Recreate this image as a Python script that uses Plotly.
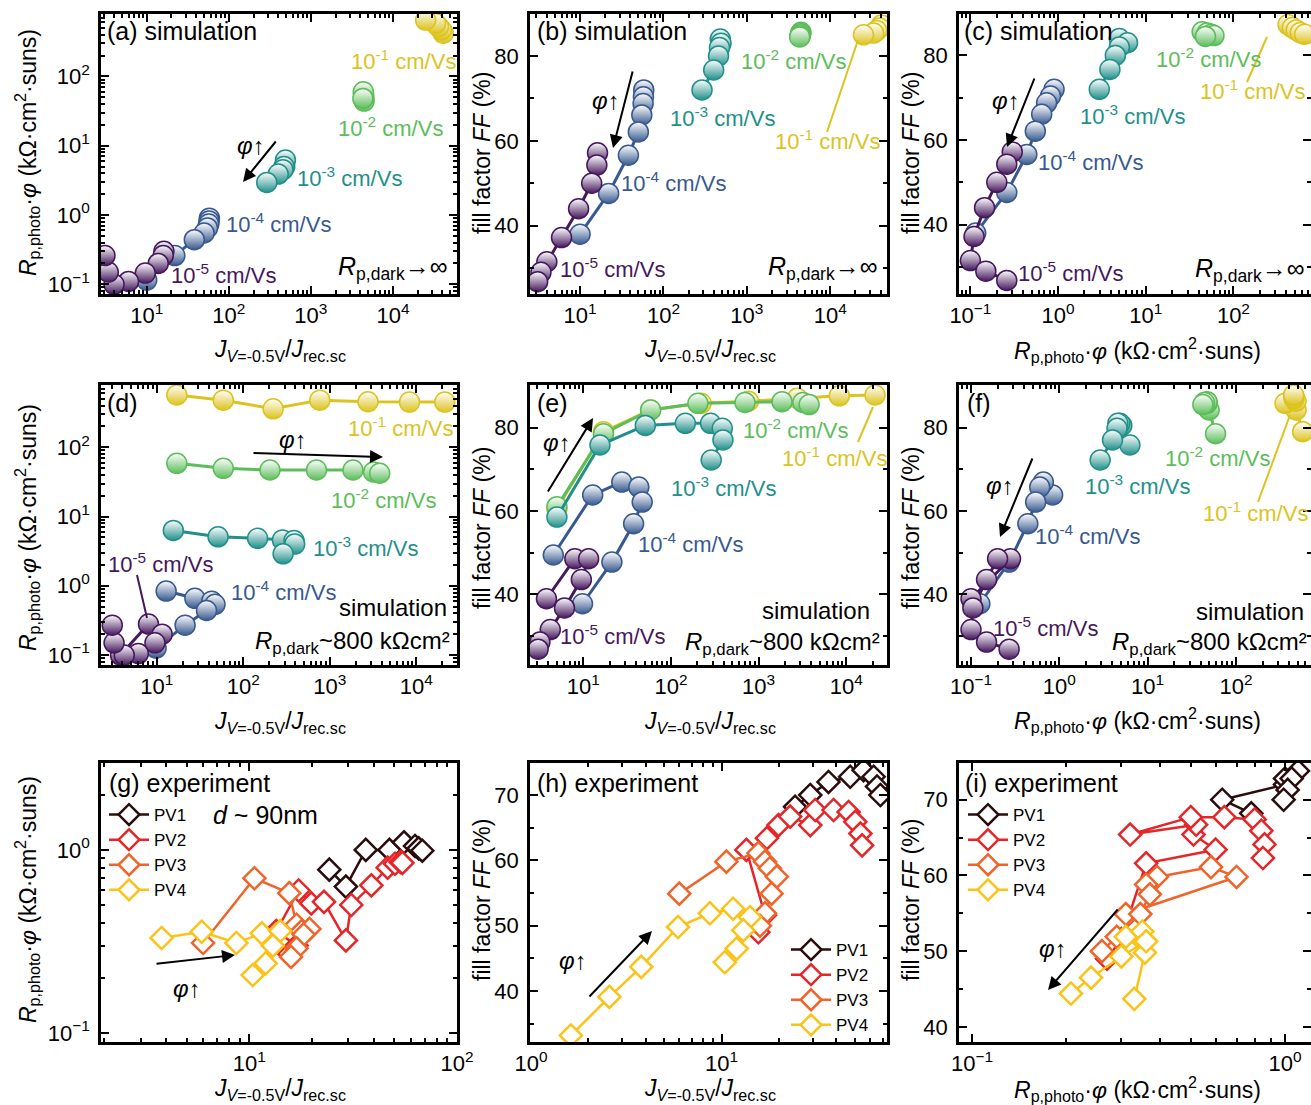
import plotly.graph_objects as go

W, H = 1311, 1105
FONT = "Liberation Sans, Arial, sans-serif"

# ---------------- data ----------------
mobility_labels = ["10<sup>-5</sup> cm/Vs", "10<sup>-4</sup> cm/Vs", "10<sup>-3</sup> cm/Vs",
                   "10<sup>-2</sup> cm/Vs", "10<sup>-1</sup> cm/Vs"]
sim_colors = ["#45175d", "#37598f", "#21908a", "#5cbd5a", "#dcc31e"]

# Simulation, R_p,dark -> infinity  (panels a, b, c)
inf_J_m5 = [16.2, 15.9, 13.8, 9.6, 6.0, 4.0, 3.4, 3.1]
inf_Rp_m5 = [0.30, 0.26, 0.20, 0.145, 0.11, 0.10, 0.15, 0.26]
inf_FF_m5 = [57.2, 54.3, 50.0, 44.0, 37.2, 31.5, 29.0, 26.8]

inf_J_m4 = [58, 57.5, 57, 55, 50, 38, 22, 10]
inf_Rp_m4 = [0.90, 0.82, 0.74, 0.65, 0.55, 0.44, 0.26, 0.115]
inf_FF_m4 = [72.0, 70.4, 68.8, 66.1, 62.1, 56.6, 47.6, 38.0]

inf_J_m3 = [480, 490, 470, 457, 400, 290]
inf_Rp_m3 = [5.0, 6.2, 5.0, 4.5, 3.9, 2.95]
inf_FF_m3 = [84.0, 83.0, 82.0, 80.0, 76.7, 72.0]

inf_J_m2 = [4450, 4420, 4380, 4350, 4300]
inf_Rp_m2 = [44, 50, 56, 60, 48]
inf_FF_m2 = [85.6, 85.3, 85.0, 84.7, 84.5]

inf_J_m1 = [41000, 39000, 36000, 33000, 25000]
inf_Rp_m1 = [420, 470, 520, 580, 650]
inf_FF_m1 = [87.3, 86.6, 86.0, 85.4, 85.0]

# Simulation, R_p,dark ~ 800 kOhm cm2  (panels d, e, f)
dk_J_m5 = [3.8, 8.0, 11.5, 9.5, 6.1, 4.2, 3.2, 3.05]
dk_Rp_m5 = [0.10, 0.28, 0.20, 0.15, 0.105, 0.10, 0.15, 0.27]
dk_FF_m5 = [38.9, 48.5, 48.5, 43.5, 36.7, 31.5, 28.5, 26.8]

dk_J_m4 = [4.55, 12.8, 27.5, 43, 47, 37.5, 21.2, 9.8]
dk_Rp_m4 = [None, 0.84, 0.66, 0.60, 0.54, 0.44, 0.27, 0.126]
dk_FF_m4 = [49.4, 63.8, 66.9, 65.7, 62.1, 56.9, 47.7, 37.7]

dk_J_m3 = [5.0, 15.5, 51, 146, 283, 385, 392, 288]
dk_Rp_m3 = [None, 6.3, 5.1, 4.85, 4.6, 4.5, 4.0, 2.9]
dk_FF_m3 = [58.5, 75.8, 80.5, 81.0, 81.0, 79.8, 77.0, 72.2]

dk_J_m2 = [5.0, 17, 58.6, 203, 700, 1850, 3200, 3770]
dk_Rp_m2 = [None, 58.8, 49.7, 47.0, 47.0, 47.0, 44.0, 42.2]
dk_FF_m2 = [61.0, 78.5, 84.2, 85.8, 86.0, 86.2, 86.0, 85.5]

dk_J_m1 = [5.0, 17, 58.6, 221, 766, 2760, 8330, 21300]
dk_Rp_m1 = [None, 570, 480, 360, 480, 455, 450, 450]
dk_FF_m1 = [60.5, 79.0, 84.2, 85.8, 86.3, 87.0, 87.6, 87.8]

# Experiment (panels g, h, i)
pv_names = ["PV1", "PV2", "PV3", "PV4"]
pv_colors = ["#2a0c0c", "#e52528", "#f0642a", "#fbc217"]

pv1_J = [24.3, 29.2, 36.4, 47.3, 55.6, 62.8, 65.4, 68.1]
pv1_Rp = [0.78, 0.63, 1.0, 1.0, 1.1, 1.05, 1.02, 0.99]
pv1_FF = [68.2, 70.0, 72.0, 72.8, 73.8, 72.8, 71.3, 70.0]

pv2_J = [15.6, 16.9, 13.5, 17.3, 19.9, 22.9, 29.2, 31.0, 38.7, 46.4, 50.3, 53.5, 54.6]
pv2_Rp = [0.27, 0.30, 0.36, 0.60, 0.51, 0.52, 0.32, 0.50, 0.64, 0.80, 0.84, 0.86, 0.85]
pv2_FF = [49.0, 51.6, 61.6, 63.4, 65.4, 66.7, 65.4, 67.7, 67.7, 67.4, 65.9, 64.1, 62.3]

pv3_J = [6.0, 10.6, 15.6, 16.9, 17.9, 19.5, 18.3, 16.9, 15.9]
pv3_Rp = [0.31, 0.70, 0.58, 0.39, 0.36, 0.37, 0.345, 0.29, 0.26]
pv3_FF = [54.9, 59.8, 61.1, 59.8, 58.8, 57.5, 54.9, 51.9, 50.0]

pv4_J = [1.62, 2.58, 3.79, 5.91, 8.68, 11.5, 14.1, 13.0, 12.0, 10.4]
pv4_Rp = [None, None, 0.33, 0.357, 0.31, 0.35, 0.36, 0.30, 0.24, 0.207]
pv4_FF = [33.2, 39.1, 43.7, 49.8, 51.9, 52.6, 51.3, 49.3, 46.5, 44.4]

# tick labels
log_tick_text = {-1: "10<sup>−1</sup>", 0: "10<sup>0</sup>", 1: "10<sup>1</sup>",
                 2: "10<sup>2</sup>", 3: "10<sup>3</sup>", 4: "10<sup>4</sup>"}

# ---------------- helpers ----------------
def pxx(p):
    return p / W


def pxy(p):
    return 1 - p / H


inf_sets = [(inf_J_m5, inf_Rp_m5, inf_FF_m5), (inf_J_m4, inf_Rp_m4, inf_FF_m4),
            (inf_J_m3, inf_Rp_m3, inf_FF_m3), (inf_J_m2, inf_Rp_m2, inf_FF_m2),
            (inf_J_m1, inf_Rp_m1, inf_FF_m1)]
dk_sets = [(dk_J_m5, dk_Rp_m5, dk_FF_m5), (dk_J_m4, dk_Rp_m4, dk_FF_m4),
           (dk_J_m3, dk_Rp_m3, dk_FF_m3), (dk_J_m2, dk_Rp_m2, dk_FF_m2),
           (dk_J_m1, dk_Rp_m1, dk_FF_m1)]
pv_sets = [(pv1_J, pv1_Rp, pv1_FF), (pv2_J, pv2_Rp, pv2_FF),
           (pv3_J, pv3_Rp, pv3_FF), (pv4_J, pv4_Rp, pv4_FF)]

fig = go.Figure()


def axid(k):
    return ("x" if k == 1 else f"x{k}"), ("y" if k == 1 else f"y{k}")


def pick(s, which):
    J, Rp, FF = s
    return {"JR": (J, Rp), "JF": (J, FF), "RF": (Rp, FF)}[which]


# simulation traces (high mobility first so low mobility sits on top)
for sets, panels in [(inf_sets, [(1, "JR"), (2, "JF"), (3, "RF")]),
                     (dk_sets, [(4, "JR"), (5, "JF"), (6, "RF")])]:
    for k, which in panels:
        xa, ya = axid(k)
        for i in reversed(range(5)):
            x, y = pick(sets[i], which)
            c = sim_colors[i]
            fig.add_trace(go.Scatter(
                x=x, y=y, mode="lines+markers", xaxis=xa, yaxis=ya, showlegend=False,
                line=dict(color=c, width=3),
                marker=dict(symbol="circle", size=20, color="white",
                            line=dict(color=c, width=1.5),
                            gradient=dict(type="vertical", color=c)),
                hoverinfo="skip"))

# experiment traces
for k, which, leg in [(7, "JR", "legend"), (8, "JF", "legend2"), (9, "RF", "legend3")]:
    xa, ya = axid(k)
    for i in range(4):
        x, y = pick(pv_sets[i], which)
        c = pv_colors[i]
        fig.add_trace(go.Scatter(
            x=x, y=y, mode="lines+markers", xaxis=xa, yaxis=ya, name=pv_names[i],
            legend=leg, showlegend=True,
            line=dict(color=c, width=2.5),
            marker=dict(symbol="diamond", size=17, color="white", line=dict(color=c, width=2.5)),
            hoverinfo="skip"))

# ---------------- axes ----------------
cols = [(101, 457), (530, 887), (959, 1311)]
rows = [(14, 294), (385, 665), (763, 1042)]

minor_log = [m * 10.0 ** e for e in range(-2, 6) for m in range(2, 10)]


def log_axis(rng, lo, hi):
    return dict(type="log", range=rng,
                tickvals=[10.0 ** e for e in range(lo, hi + 1)],
                ticktext=[log_tick_text[e] for e in range(lo, hi + 1)],
                minor=dict(tickmode="array", tickvals=minor_log, ticks="inside",
                           ticklen=4, tickwidth=1.5, tickcolor="black"))


def lin_axis(rng, vals, mdt):
    return dict(type="linear", range=rng, tickvals=vals, ticktext=[str(v) for v in vals],
                minor=dict(dtick=mdt, tick0=0, ticks="inside", ticklen=4,
                           tickwidth=1.5, tickcolor="black"))


ax_specs = {
    1: (log_axis([0.443, 4.78], 1, 4), log_axis([-1.14, 2.90], -1, 2)),
    2: (log_axis([0.40, 4.68], 1, 4), lin_axis([23.9, 89.9], [40, 60, 80], 10)),
    3: (log_axis([-1.13, 2.885], -1, 2), lin_axis([23.6, 89.8], [40, 60, 80], 10)),
    4: (log_axis([0.354, 4.47], 1, 4), log_axis([-1.144, 2.90], -1, 2)),
    5: (log_axis([0.392, 4.465], 1, 4), lin_axis([23.0, 90.2], [40, 60, 80], 10)),
    6: (log_axis([-1.136, 2.85], -1, 2), lin_axis([23.0, 90.2], [40, 60, 80], 10)),
    7: (log_axis([0.287, 2.0], 1, 2), log_axis([-1.05, 0.475], -1, 0)),
    8: (log_axis([-0.005, 1.868], 0, 1), lin_axis([32.2, 74.9], [40, 50, 60, 70], 5)),
    9: (log_axis([-1.0415, 0.083], -1, 0), lin_axis([38.0, 74.85], [40, 50, 60, 70], 5)),
}

common = dict(showline=True, linecolor="black", linewidth=2.5, mirror="ticks",
              ticks="inside", ticklen=8, tickwidth=2, tickcolor="black",
              showgrid=False, zeroline=False, automargin=False,
              tickfont=dict(family=FONT, size=22, color="black"))

layout_axes = {}
for k in range(1, 10):
    r, c = (k - 1) // 3, (k - 1) % 3
    xspec, yspec = ax_specs[k]
    xa, ya = axid(k)
    xd = [pxx(cols[c][0]), min(1.0, pxx(cols[c][1]))]
    yd = [pxy(rows[r][1]), pxy(rows[r][0])]
    xkey = "xaxis" if k == 1 else f"xaxis{k}"
    ykey = "yaxis" if k == 1 else f"yaxis{k}"
    layout_axes[xkey] = dict(domain=xd, anchor=ya, **common, **xspec)
    layout_axes[ykey] = dict(domain=yd, anchor=xa, ticklabelstandoff=4, **common, **yspec)

# ---------------- annotations ----------------
ann = []


def txt(s, px, py, size=22, color="black", xanchor="center", angle=0):
    ann.append(dict(text=s, x=pxx(px), y=pxy(py), xref="paper", yref="paper",
                    xanchor=xanchor, yanchor="middle", showarrow=False, textangle=angle,
                    font=dict(family=FONT, size=size, color=color)))


def arrow(tail, head):
    ann.append(dict(text="", x=pxx(head[0]), y=pxy(head[1]), xref="paper", yref="paper",
                    ax=tail[0] - head[0], ay=tail[1] - head[1], axref="pixel", ayref="pixel",
                    showarrow=True, arrowhead=2, arrowsize=1.3, arrowwidth=2, arrowcolor="black"))


ylab_R = "<i>R</i><sub>p,photo</sub>·<i>φ</i> (kΩ·cm<sup>2</sup>·suns)"
ylab_FF = "fill factor <i>FF</i> (%)"
xlab_J = "<i>J</i><sub><i>V</i>=-0.5V</sub>/<i>J</i><sub>rec.sc</sub>"
xlab_R = "<i>R</i><sub>p,photo</sub>·<i>φ</i> (kΩ·cm<sup>2</sup>·suns)"

for yc in [153, 528, 900]:
    txt(ylab_R, 27, yc, 23, angle=-90)
    txt(ylab_FF, 482, yc, 23, angle=-90)
    txt(ylab_FF, 911, yc, 23, angle=-90)
for yc in [350, 722, 1089]:
    txt(xlab_J, 280, yc, 23)
    txt(xlab_J, 710, yc, 23)
for yc in [350, 720, 1089]:
    txt(xlab_R, 1137, yc, 23)

# panel labels
txt("(a) simulation", 105, 31, 25, xanchor="left")
txt("(b) simulation", 535, 31, 25, xanchor="left")
txt("(c) simulation", 962, 31, 25, xanchor="left")
txt("(d)", 105, 403, 25, xanchor="left")
txt("(e)", 535, 403, 25, xanchor="left")
txt("(f)", 965, 403, 25, xanchor="left")
txt("(g) experiment", 107, 783, 25, xanchor="left")
txt("(h) experiment", 535, 783, 25, xanchor="left")
txt("(i) experiment", 963, 783, 25, xanchor="left")
txt("<i>d</i> ~ 90nm", 211, 815, 25, xanchor="left")

rinf = "<i>R</i><sub>p,dark</sub>→∞"
txt(rinf, 393, 268, 25)
txt(rinf, 823, 268, 25)
txt(rinf, 1250, 270, 25)
r800 = "<i>R</i><sub>p,dark</sub>~800 kΩcm²"
for cx, cy in [(393, 607), (816, 610), (1250, 611)]:
    txt("simulation", cx, cy, 24)
txt(r800, 352, 642, 24)
txt(r800, 782, 643, 24)
txt(r800, 1209, 643, 24)

# mobility labels
mob_pos = {
    1: [(223, 274), (278, 223), (350, 177), (390, 127), (403, 60)],
    2: [(612, 268), (673, 182), (722, 117), (793, 60), (827, 140)],
    3: [(1070, 272), (1090, 161), (1132, 115), (1208, 58), (1252, 90)],
    4: [(160, 563), (283, 591), (365, 547), (383, 499), (400, 427)],
    5: [(612, 635), (690, 543), (723, 487), (795, 429), (835, 457)],
    6: [(1045, 627), (1087, 535), (1137, 485), (1217, 457), (1255, 512)],
}
for k, plist in mob_pos.items():
    for i, (px, py) in enumerate(plist):
        txt(mobility_labels[i], px, py, 22, color=sim_colors[i])

# phi arrows
phi = "<i>φ</i>↑"
for tail, head, tp in [((277, 140), (243, 182), (251, 146)),
                       ((633, 70), (613, 148), (606, 100)),
                       ((1035, 77), (1007, 147), (1006, 100)),
                       ((252, 453), (383, 457), (293, 440)),
                       ((547, 493), (593, 418), (557, 442)),
                       ((1033, 457), (1000, 537), (1000, 485)),
                       ((155, 964), (235, 955), (187, 988)),
                       ((588, 998), (652, 931), (573, 960)),
                       ((1119, 908), (1048, 990), (1053, 948))]:
    arrow(tail, head)
    txt(phi, tp[0], tp[1], 24)

# pointer lines for labels
shapes = []
for (x0, y0, x1, y1, col) in [(827, 132, 858, 40, sim_colors[4]),
                              (1247, 82, 1267, 37, sim_colors[4]),
                              (137, 575, 147, 618, sim_colors[0]),
                              (858, 442, 873, 407, sim_colors[4]),
                              (1258, 502, 1290, 415, sim_colors[4])]:
    shapes.append(dict(type="line", xref="paper", yref="paper",
                       x0=pxx(x0), y0=pxy(y0), x1=pxx(x1), y1=pxy(y1),
                       line=dict(color=col, width=2)))

legend_common = dict(xanchor="left", yanchor="top", bgcolor="rgba(0,0,0,0)",
                     font=dict(family=FONT, size=17, color="black"),
                     tracegroupgap=0, itemwidth=40)

fig.update_layout(
    width=W, height=H, autosize=False,
    margin=dict(l=0, r=0, t=0, b=0, pad=0, autoexpand=False),
    paper_bgcolor="white", plot_bgcolor="white",
    font=dict(family=FONT, size=20, color="black"),
    annotations=ann, shapes=shapes,
    legend=dict(x=pxx(104), y=pxy(797), **legend_common),
    legend2=dict(x=pxx(786), y=pxy(932), **legend_common),
    legend3=dict(x=pxx(963), y=pxy(797), **legend_common),
    **layout_axes,
)

fig.write_html("out.html")
